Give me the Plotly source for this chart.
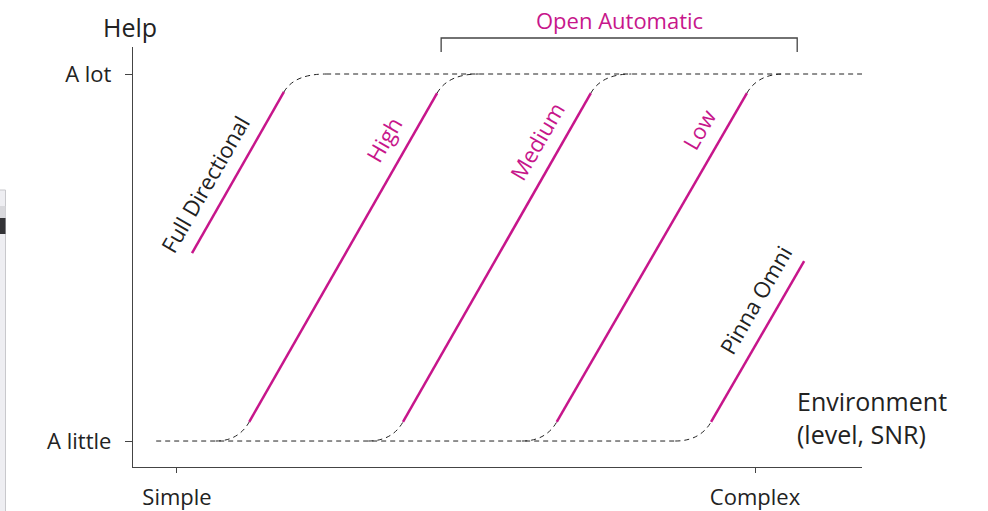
import plotly.graph_objects as go

# modes of the hearing aid, drawn as help vs. environment curves
modes = ["Full Directional", "High", "Medium", "Low", "Pinna Omni"]
is_auto = [False, True, True, True, False]

# solid part of each curve (x = environment, y = help)
seg_x0 = [0.026, 0.125, 0.391, 0.657, 0.924]
seg_y0 = [0.512, 0.052, 0.052, 0.052, 0.052]
seg_x1 = [0.185, 0.450, 0.716, 0.986, 1.085]
seg_y1 = [0.951, 0.948, 0.948, 0.948, 0.490]

# where each curve leaves the "a little" / "a lot" plateaus
low_join = [None, 0.067, 0.331, 0.597, 0.862]
high_join = [0.258, 0.522, 0.786, 1.050, None]
plateau_start = -0.036

x_ticks = [0, 1]
x_labels = ["Simple", "Complex"]
y_ticks = [0, 1]
y_labels = ["A little", "A lot"]

auto_span = [0.457, 1.073]  # bracket for "Open Automatic"

MAGENTA = "#C7168B"
INK = "#222222"
AXIS = "#444444"
FONT = "Open Sans"
DASH = "5px,4px"

W, H = 988, 511
ML, MR, MT, MB = 133, 126, 47, 44
xr = [-0.0761, 1.1851]
yr = [-0.0708, 1.0736]


def px_x(p):
    return (p - ML) / (W - ML - MR)


def px_y(p):
    return (H - MB - p) / (H - MT - MB)


def dx_paper(v):
    return (v - xr[0]) / (xr[1] - xr[0])


fig = go.Figure()
shapes = []
annotations = []

# plateaus
fig.add_trace(go.Scatter(x=[plateau_start, low_join[-1]], y=[0, 0], mode="lines",
                         line=dict(color=INK, width=1, dash=DASH), hoverinfo="skip"))
fig.add_trace(go.Scatter(x=[high_join[0], xr[1]], y=[1, 1], mode="lines",
                         line=dict(color=INK, width=1, dash=DASH), hoverinfo="skip"))

label_frac = [0.43, 0.86, 0.855, 0.89, 0.76]

for i, name in enumerate(modes):
    x0, y0, x1, y1 = seg_x0[i], seg_y0[i], seg_x1[i], seg_y1[i]
    dx, dy = x1 - x0, y1 - y0
    fig.add_trace(go.Scatter(x=[x0, x1], y=[y0, y1], mode="lines",
                             line=dict(color=MAGENTA, width=2.5), hoverinfo="skip"))
    if low_join[i] is not None:
        cx = x0 - y0 * dx / dy
        shapes.append(dict(type="path", xref="x", yref="y",
                           path=f"M {low_join[i]},0 Q {cx},0 {x0},{y0}",
                           line=dict(color=INK, width=1, dash=DASH)))
    if high_join[i] is not None:
        cx = x1 + (1 - y1) * dx / dy
        shapes.append(dict(type="path", xref="x", yref="y",
                           path=f"M {x1},{y1} Q {cx},1 {high_join[i]},1",
                           line=dict(color=INK, width=1, dash=DASH)))
    f = label_frac[i]
    annotations.append(dict(x=x0 + f * dx, y=y0 + f * dy, xref="x", yref="y",
                            text=name, showarrow=False, textangle=-60,
                            xshift=-27, xanchor="center", yanchor="middle",
                            font=dict(family=FONT, size=22,
                                      color=MAGENTA if is_auto[i] else INK)))

# bracket above the automatic modes
bx0, bx1 = dx_paper(auto_span[0]), dx_paper(auto_span[1])
shapes.append(dict(type="path", xref="paper", yref="paper",
                   path=f"M {bx0},{px_y(52)} L {bx0},{px_y(38)} L {bx1},{px_y(38)} L {bx1},{px_y(52)}",
                   line=dict(color=AXIS, width=1.3)))
annotations.append(dict(x=sum(auto_span) / 2, y=px_y(20), xref="x", yref="paper",
                        text="Open Automatic", showarrow=False,
                        xanchor="center", yanchor="middle",
                        font=dict(family=FONT, size=22, color=MAGENTA)))

annotations.append(dict(x=0, y=px_y(27), xref="paper", yref="paper", xshift=-3,
                        text="Help", showarrow=False, xanchor="center", yanchor="middle",
                        font=dict(family=FONT, size=25, color=INK)))
annotations.append(dict(x=px_x(795), y=px_y(417), xref="paper", yref="paper",
                        text="Environment<br>(level, SNR)", showarrow=False,
                        xanchor="left", yanchor="middle", align="left",
                        font=dict(family=FONT, size=25, color=INK)))

# leftover window edge at the left border
shapes.append(dict(type="rect", xref="paper", yref="paper", x0=px_x(-2), x1=px_x(5.5),
                   y0=px_y(512), y1=px_y(190), fillcolor="#EEEEF2",
                   line=dict(color="#C8C8CC", width=1)))
shapes.append(dict(type="rect", xref="paper", yref="paper", x0=px_x(-2), x1=px_x(5.5),
                   y0=px_y(218), y1=px_y(206), fillcolor="#D8D8DC", line=dict(width=0)))
shapes.append(dict(type="rect", xref="paper", yref="paper", x0=px_x(-2), x1=px_x(5.5),
                   y0=px_y(234), y1=px_y(218), fillcolor="#333336", line=dict(width=0)))

fig.update_layout(
    width=W, height=H,
    margin=dict(l=ML, r=MR, t=MT, b=MB),
    paper_bgcolor="white", plot_bgcolor="white",
    showlegend=False,
    shapes=shapes, annotations=annotations,
    xaxis=dict(range=xr, tickvals=x_ticks, ticktext=x_labels, showgrid=False,
               zeroline=False, showline=True, linecolor=AXIS, linewidth=1.3,
               ticks="outside", ticklen=5, tickcolor=AXIS, tickwidth=1,
               ticklabelstandoff=5, automargin=False,
               tickfont=dict(family=FONT, size=22, color=INK)),
    yaxis=dict(range=yr, tickvals=y_ticks, ticktext=y_labels, showgrid=False,
               zeroline=False, showline=True, linecolor=AXIS, linewidth=1.3,
               ticks="outside", ticklen=7, tickcolor=AXIS, tickwidth=1,
               ticklabelstandoff=9, automargin=False,
               tickfont=dict(family=FONT, size=22, color=INK)),
)

fig.write_html("out.html", config={"displayModeBar": False},
               post_script="document.body.style.margin='0px';")
